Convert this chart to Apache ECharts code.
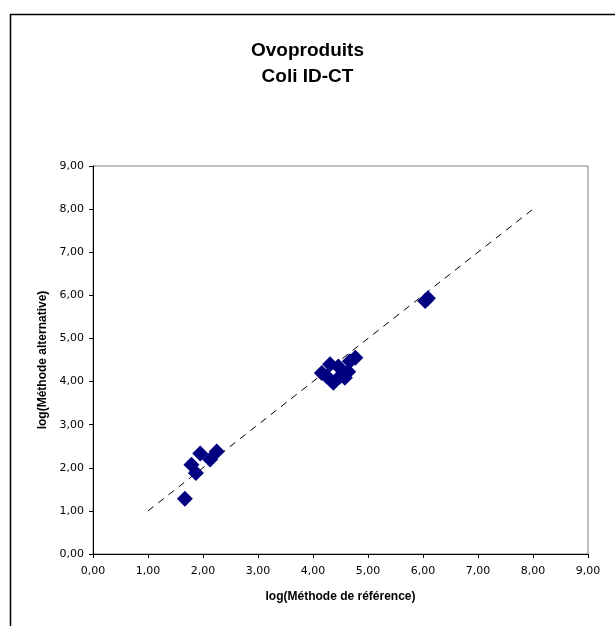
<!DOCTYPE html>
<html>
<head>
<meta charset="utf-8">
<script src="https://cdn.jsdelivr.net/npm/echarts@6/dist/echarts.min.js"></script>
<style>
  html, body { margin: 0; padding: 0; background: #fff; }
  #chart { width: 615px; height: 626px; }
</style>
</head>
<body>
<div id="chart"></div>
<script>
// log(Méthode de référence) / log(Méthode alternative)
var refValues = [1.67, 1.79, 1.87, 1.95, 2.13, 2.25,
                 4.16, 4.25, 4.31, 4.37, 4.46, 4.49, 4.58, 4.64, 4.67, 4.77,
                 6.04, 6.09];
var altValues = [1.28, 2.07, 1.88, 2.33, 2.19, 2.38,
                 4.20, 4.12, 4.40, 3.97, 4.35, 4.12, 4.09, 4.23, 4.47, 4.55,
                 5.87, 5.93];
// droite y = x
var lineX = [1, 8];
var lineY = [1, 8];
var tickLabels = ['0,00', '1,00', '2,00', '3,00', '4,00', '5,00', '6,00', '7,00', '8,00', '9,00'];

var chart = echarts.init(document.getElementById('chart'))

var fmt = function (v) {
  return tickLabels[Math.round(v)]
}

var points = refValues.map(function (x, i) { return [x, altValues[i]] })
var line = lineX.map(function (x, i) { return [x, lineY[i]] })

var axisCommon = {
  type: 'value',
  min: 0,
  max: 9,
  interval: 1,
  splitLine: { show: false },
  axisLine: { show: true, lineStyle: { color: '#000', width: 1 } },
  axisTick: { show: true, inside: false, length: 4, lineStyle: { color: '#000' } },
  axisLabel: { color: '#000', fontSize: 11, fontFamily: 'DejaVu Sans', formatter: fmt },
  nameLocation: 'middle',
  nameTextStyle: { color: '#000', fontSize: 12, fontWeight: 'bold', fontFamily: 'Liberation Sans, Arial' }
}

var options = {
  backgroundColor: '#fff',
  animation: false,
  title: {
    text: 'Ovoproduits\nColi ID-CT',
    left: 'center',
    top: 33,
    textStyle: {
      color: '#000',
      fontSize: 19,
      fontWeight: 'bold',
      fontFamily: 'Liberation Sans, Arial',
      lineHeight: 26
    }
  },
  grid: { left: 93, right: 27, top: 166, bottom: 72, show: true, borderColor: '#808080', borderWidth: 1, backgroundColor: '#fff' },
  xAxis: Object.assign({}, axisCommon, {
    name: 'log(Méthode de référence)',
    nameGap: 37,
    axisLabel: Object.assign({}, axisCommon.axisLabel, { margin: 12 })
  }),
  yAxis: Object.assign({}, axisCommon, {
    name: 'log(Méthode alternative)',
    nameGap: 37,
    axisLabel: Object.assign({}, axisCommon.axisLabel, { margin: 9 })
  }),
  graphic: [{
    type: 'rect',
    shape: { x: 10.5, y: 14.5, width: 640, height: 640 },
    style: { fill: 'none', stroke: '#000', lineWidth: 1.5 },
    silent: true
  }],
  series: [
    {
      type: 'line',
      data: line,
      symbol: 'none',
      lineStyle: { color: '#000', width: 1, type: [7, 6] },
      z: 1
    },
    {
      type: 'scatter',
      data: points,
      symbol: 'diamond',
      symbolSize: 16,
      itemStyle: { color: '#000080', opacity: 1 },
      z: 3
    }
  ]
}

chart.setOption(options)
</script>
</body>
</html>
